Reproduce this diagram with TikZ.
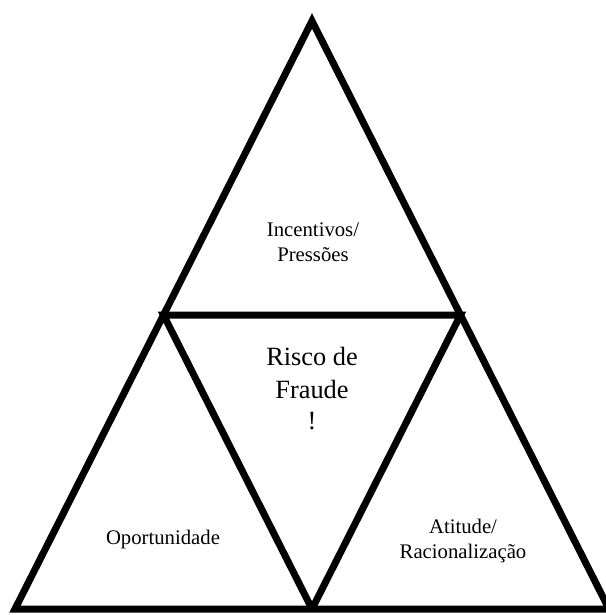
\documentclass[tikz,border=0pt]{standalone}
\usepackage{fontspec}
\setmainfont{Liberation Serif}
\usetikzlibrary{calc}

\tikzset{
	edge/.style={line width=0.14cm, line join=miter},
	lbl/.style={align=center, font=\fontsize{11.8}{14.2}\selectfont, inner sep=0pt},
	biglbl/.style={align=center, font=\fontsize{15}{18.5}\selectfont, inner sep=0pt}
}

\begin{document}
\begin{tikzpicture}[x=0.02cm, y=-0.02cm]
	%%%%% START %%%%%
	
	\useasboundingbox (0, 0) rectangle (605, 615);
	
	\coordinate (top) at (312, 21);
	\coordinate (bl) at (15, 609);
	\coordinate (br) at (609, 609);
	
	\coordinate (ml) at ($(top)!0.5!(bl)$);
	\coordinate (mr) at ($(top)!0.5!(br)$);
	\coordinate (mb) at ($(bl)!0.5!(br)$);
	
	\draw[edge] (top) -- (bl) -- (br) -- cycle;
	\draw[edge] (mb) -- (ml) -- (mr) -- (mb);
	
	\node[lbl] (incent) at (313, 242) {Incentivos/\\Pressões};
	\node[biglbl] (risco) at (312, 373) {Risco de\\Fraude};
	\node[biglbl] (excl) at (312, 421) {!};
	\node[lbl] (oport) at (163, 540) {Oportunidade};
	\node[lbl] (atit) at (463, 541) {Atitude/\\Racionalização};
	
	%%%%% END %%%%%
\end{tikzpicture}
\end{document}
